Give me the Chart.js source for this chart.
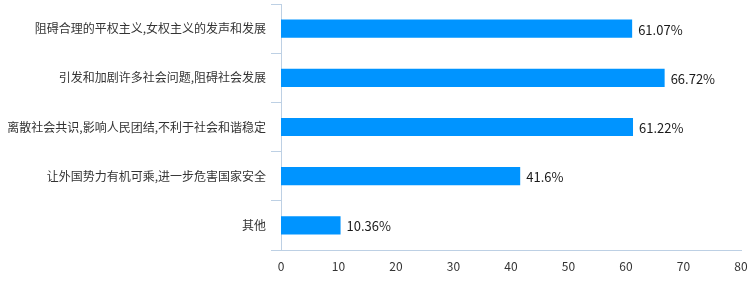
<!DOCTYPE html>
<html>
<head>
<meta charset="utf-8">
<script src="https://cdn.jsdelivr.net/npm/chart.js@4/dist/chart.umd.min.js"></script>
<style>
  html, body { margin: 0; padding: 0; background: #fff; }
  #wrap { width: 755px; height: 281px; }
</style>
</head>
<body>
<div id="wrap"><canvas id="chart" width="755" height="281"></canvas></div>
<script>
// categories and values
const categories = [
  "阻碍合理的平权主义,女权主义的发声和发展",
  "引发和加剧许多社会问题,阻碍社会发展",
  "离散社会共识,影响人民团结,不利于社会和谐稳定",
  "让外国势力有机可乘,进一步危害国家安全",
  "其他"
];
const percents = [61.07, 66.72, 61.22, 41.6, 10.36];
const xTicks = [0, 10, 20, 30, 40, 50, 60, 70, 80];

const FONT = "'Noto Sans CJK SC', 'Noto Sans', sans-serif";
const axisColor = "#bdd0e4";

// draws the value at the end of each bar
const barLabels = {
  id: "barLabels",
  afterDatasetsDraw(chart) {
    const ctx = chart.ctx;
    const meta = chart.getDatasetMeta(0);
    ctx.save();
    ctx.font = "13px " + FONT;
    ctx.fillStyle = "#1a1a1a";
    ctx.textAlign = "left";
    ctx.textBaseline = "middle";
    meta.data.forEach((bar, i) => {
      ctx.fillText(percents[i] + "%", bar.x + 6, bar.y + 1);
    });
    ctx.restore();
  }
};

const ctx = document.getElementById("chart").getContext("2d");
new Chart(ctx, {
  type: "bar",
  data: {
    labels: categories,
    datasets: [{
      data: percents,
      backgroundColor: "#0094ff",
      barPercentage: 0.74,
      categoryPercentage: 0.5
    }]
  },
  plugins: [barLabels],
  options: {
    indexAxis: "y",
    responsive: false,
    animation: false,
    layout: { padding: { top: 4, right: 14, left: 0, bottom: 0 } },
    plugins: {
      legend: { display: false },
      tooltip: { enabled: false }
    },
    scales: {
      x: {
        min: 0,
        max: 80,
        afterBuildTicks(axis) {
          axis.ticks = xTicks.map(v => ({ value: v }));
        },
        afterFit(axis) {
          axis.height = 31;
          axis.paddingLeft = 0;
          axis.paddingRight = 0;
        },
        grid: { display: false, drawTicks: false },
        border: { display: true, color: axisColor, width: 1 },
        ticks: {
          color: "#333",
          font: { size: 12, family: FONT },
          padding: 9
        }
      },
      y: {
        afterFit(axis) {
          axis.width = 281;
          axis.paddingTop = 0;
          axis.paddingBottom = 0;
        },
        grid: {
          offset: true,
          drawOnChartArea: false,
          drawTicks: true,
          tickLength: 10,
          color: axisColor
        },
        border: { display: true, color: axisColor, width: 1 },
        ticks: {
          color: "#333",
          font: { size: 12, family: FONT },
          padding: 5
        }
      }
    }
  }
});
</script>
</body>
</html>
